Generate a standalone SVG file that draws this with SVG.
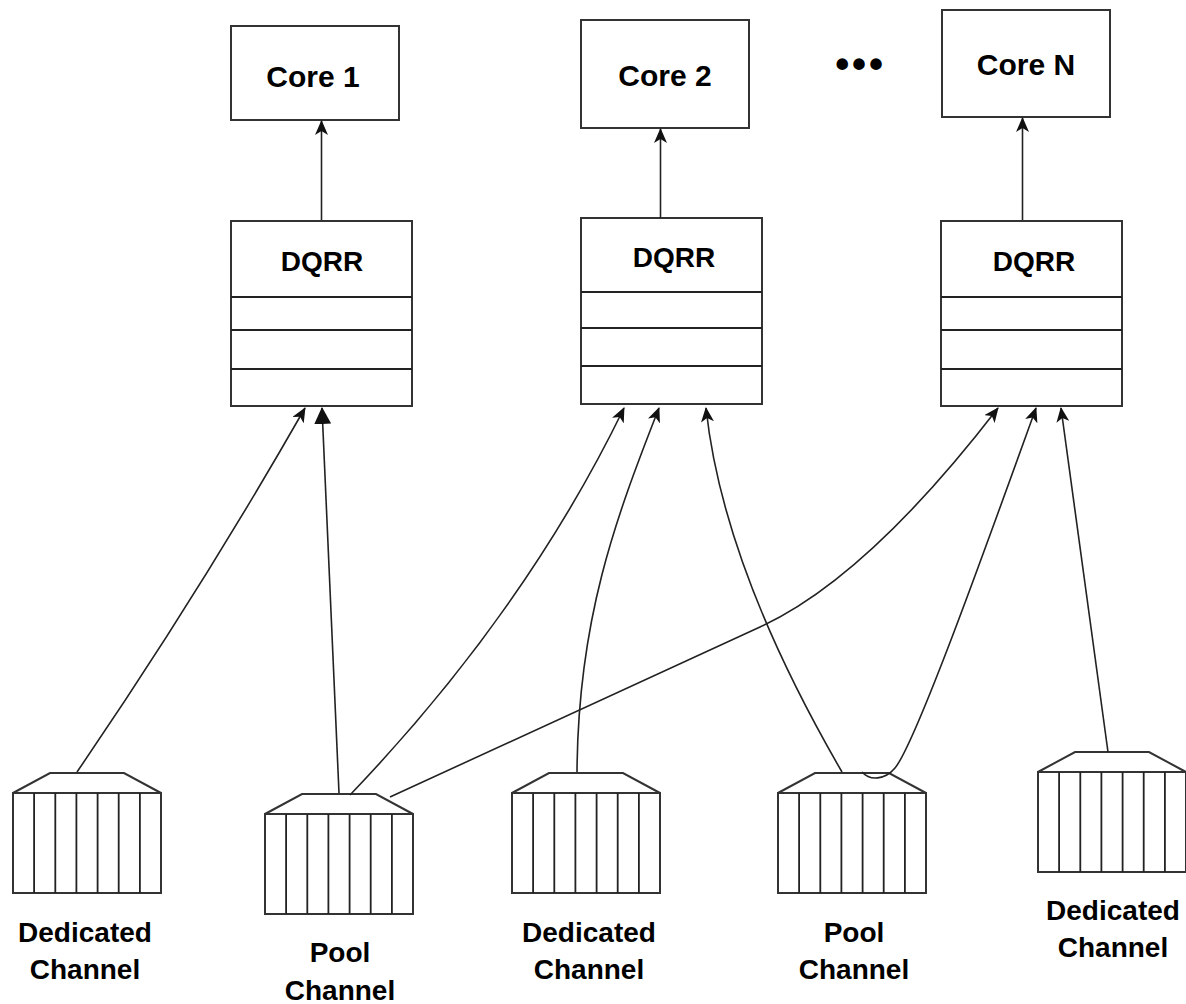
<svg xmlns="http://www.w3.org/2000/svg" xmlns:xlink="http://www.w3.org/1999/xlink" width="1186" height="1004" viewBox="0 0 1186 1004">
<style>
.box{fill:#fff;stroke:#333;stroke-width:2}
.ln{fill:none;stroke:#222;stroke-width:1.8}
.lbl{font-family:"Liberation Sans",Arial,sans-serif;font-weight:bold;font-size:28px;fill:#000;text-anchor:middle}
.core{font-size:30px}
.conn{fill:none;stroke:#222;stroke-width:1.6;marker-end:url(#arr)}
.big{marker-end:url(#arrBig)}
</style>
<defs>
<marker id="arr" markerUnits="userSpaceOnUse" markerWidth="15" markerHeight="13" refX="14" refY="6.5" orient="auto" viewBox="0 0 15 13">
<path d="M0,0 L15,6.5 L0,13 L4,6.5 Z" fill="#111"/>
</marker>
<marker id="arrBig" markerUnits="userSpaceOnUse" markerWidth="17" markerHeight="17" refX="16" refY="8.5" orient="auto" viewBox="0 0 17 17">
<path d="M0,0 L17,8.5 L0,17 Z" fill="#111"/>
</marker>
<g id="chan">
<polygon class="box" points="0,0 37,-20 111,-20 148,0"/>
<rect class="box" x="0" y="0" width="148" height="100"/>
<path class="ln" d="M21.1,0V100M42.3,0V100M63.4,0V100M84.6,0V100M105.7,0V100M126.9,0V100"/>
</g>
</defs>
<rect width="1186" height="1004" fill="#fff"/>

<g id="core1"><rect class="box" x="231" y="26" width="168" height="94"/><text class="lbl core" x="313" y="87">Core 1</text></g>
<g id="core2"><rect class="box" x="581" y="20" width="168" height="108"/><text class="lbl core" x="665" y="86">Core 2</text></g>
<g id="coreN"><rect class="box" x="942" y="10" width="168" height="107"/><text class="lbl core" x="1026" y="75">Core N</text></g>
<g id="ellipsis"><text class="lbl" style="font-size:40px;letter-spacing:2.8px" x="860.5" y="77.5">•••</text></g>

<g id="dqrr1"><rect class="box" x="231" y="221" width="181" height="185"/><path class="ln" d="M231,297H412M231,330H412M231,369H412"/><text class="lbl" x="322" y="271">DQRR</text></g>
<g id="dqrr2"><rect class="box" x="581" y="218" width="181" height="186"/><path class="ln" d="M581,292H762M581,328H762M581,366H762"/><text class="lbl" x="674" y="267">DQRR</text></g>
<g id="dqrrN"><rect class="box" x="941" y="221" width="181" height="185"/><path class="ln" d="M941,297H1122M941,330H1122M941,369H1122"/><text class="lbl" x="1034" y="271">DQRR</text></g>

<g id="ded1"><use xlink:href="#chan" transform="translate(13,793)"/><text class="lbl" x="85" y="942">Dedicated</text><text class="lbl" x="85" y="979">Channel</text></g>
<g id="pool1"><use xlink:href="#chan" transform="translate(265,814)"/><text class="lbl" x="340" y="962">Pool</text><text class="lbl" x="340" y="1000">Channel</text></g>
<g id="ded2"><use xlink:href="#chan" transform="translate(512,793)"/><text class="lbl" x="589" y="942">Dedicated</text><text class="lbl" x="589" y="979">Channel</text></g>
<g id="pool2"><use xlink:href="#chan" transform="translate(778,793)"/><text class="lbl" x="854" y="942">Pool</text><text class="lbl" x="854" y="979">Channel</text></g>
<g id="ded3"><use xlink:href="#chan" transform="translate(1038,772)"/><text class="lbl" x="1113" y="920">Dedicated</text><text class="lbl" x="1113" y="957">Channel</text></g>

<g id="connectors">
<path class="conn" d="M321.5,220 L321.5,121"/>
<path class="conn" d="M660.5,218 L660.5,129"/>
<path class="conn" d="M1022.5,220 L1022.5,118"/>
<path class="conn" d="M77,772 Q200,592 305,408"/>
<path class="conn big" d="M339,793 L322,408"/>
<path class="conn" d="M350,795 Q525,612 624,408"/>
<path class="conn" d="M390,797 L760,627 Q867,578 998,408"/>
<path class="conn" d="M577,772 C578,620 615,520 659,408"/>
<path class="conn" d="M842,772 Q723,567 706,408"/>
<path class="conn" d="M862,772 C870,781 885,780 895,768 C915,744 982,558 1036,408"/>
<path class="conn" d="M1108,752 L1061,408"/>
</g>
</svg>
